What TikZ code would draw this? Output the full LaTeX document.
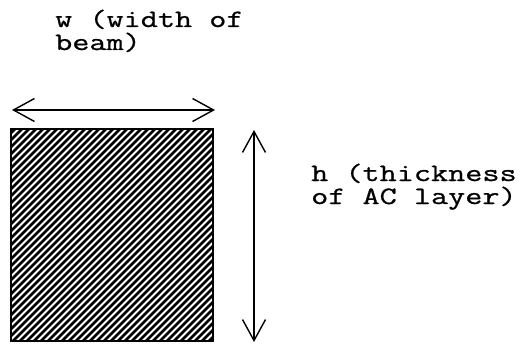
\documentclass[tikz,border=0pt]{standalone}
\usepackage{fontspec}
\usetikzlibrary{arrows.meta}
\newfontfamily\typew[FakeStretch=1.33,FakeBold=0.9]{Latin Modern Mono}
\begin{document}
\begin{tikzpicture}[x=1pt,y=1pt,
  lbl/.style={font=\typew\fontsize{25}{23}\selectfont, align=left, inner sep=0pt, anchor=base west},
  dimarrow/.style={line width=1.4pt, {Straight Barb[length=21pt,width=23pt,line width=1.4pt]}-{Straight Barb[length=21pt,width=23pt,line width=1.4pt]}},
  hatchline/.style={line width=2.5pt}]
\useasboundingbox (0,0) rectangle (526,343);
% beam cross-section
\node[minimum width=202pt, minimum height=212pt, inner sep=0pt, outer sep=0pt] (sq) at (112,108) {};
\begin{scope}
  \clip (sq.south west) rectangle (sq.north east);
  \foreach \i in {-230,-223,...,230} {
    \draw[hatchline] (\i,-10) -- ++(240,240);
  }
\end{scope}
\draw[line width=2pt] (sq.south west) rectangle (sq.north east);
% width arrow
\coordinate (wl) at (12,233);
\coordinate (wr) at (215,233);
\draw[dimarrow] (wl) -- (wr);
% height arrow
\coordinate (ht) at (254,213);
\coordinate (hb) at (254,1);
\draw[dimarrow] (ht) -- (hb);
% labels
\node[lbl] (wlab) at (55,293) {w (width of\\beam)};
\node[lbl] (hlab) at (311,139) {h (thickness\\of AC layer)};
\end{tikzpicture}
\end{document}
